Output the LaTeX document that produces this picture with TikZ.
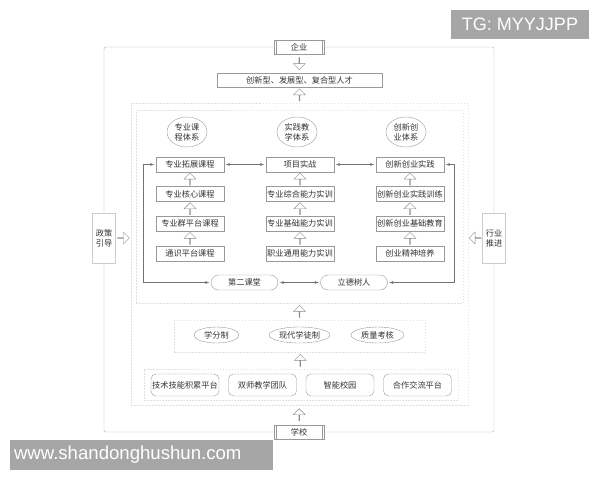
\documentclass[tikz,border=0pt]{standalone}
\usepackage{fontspec}
\usepackage{tikz}
\usetikzlibrary{arrows,shapes,calc}
\newfontfamily\cjk{Noto Sans CJK SC}
\newfontfamily\wm{Liberation Sans}

\begin{document}
\begin{tikzpicture}[x=1pt,y=1pt]
\tikzstyle{every node}=[font=\cjk\fontsize{8.2}{9.8}\selectfont, text=black!80]
\tikzstyle{box}=[rectangle, draw=black!40, fill=white, minimum width=68pt, minimum height=15pt, inner sep=1pt, node distance=29.6pt]
\tikzstyle{sys}=[ellipse, draw=black!40, minimum width=40pt, minimum height=30pt, inner sep=0pt, align=center]
\tikzstyle{oval}=[ellipse, draw=black!40, minimum height=16pt, inner sep=1pt]
\tikzstyle{pill}=[rounded rectangle, draw=black!40, minimum width=69pt, minimum height=15pt, inner sep=1pt]
\tikzstyle{plat}=[rectangle, rounded corners=5pt, draw=black!40, minimum width=68pt, minimum height=22pt, inner sep=1pt, node distance=77.5pt]
\tikzstyle{side}=[rectangle, draw=black!20, fill=white, minimum width=22pt, minimum height=50pt, align=center]
\tikzstyle{gate}=[rectangle, draw=black!40, fill=white, minimum width=50pt, minimum height=14pt]
\tikzstyle{region}=[rectangle, draw=black!12, dash pattern=on 1.5pt off 1.5pt, inner sep=0pt]
\tikzstyle{hollow}=[single arrow, draw=black!45, fill=white, minimum height=12pt, minimum width=12pt, inner sep=0pt, single arrow head extend=3pt]
\tikzstyle{connect}=[latex-latex, draw=black!55, shorten <=1.5pt, shorten >=1.5pt]
\tikzstyle{outerline}=[draw=black!30, rounded corners=2pt]
\tikzstyle{wmark}=[fill=black!35, text=white, inner sep=0pt]

  \useasboundingbox (0,0) rectangle (600,-480);

  % dashed regions
  \node[region, minimum width=337pt, minimum height=302pt] (wk) at (299.5,-254) {};
  \node[region, minimum width=327pt, minimum height=193pt] (nk) at (299.5,-206.5) {};
  \node[region, minimum width=251pt, minimum height=32pt] (zj) at (299.5,-336) {};
  \node[region, minimum width=314pt, minimum height=31pt] (dj) at (301,-384.5) {};

  % frame
  \node[gate] (qy) at (299,-47) {企业};
  \node[gate] (xx) at (299,-432) {学校};
  \node[side] (zc) at (104,-238) {政策\\引导};
  \node[side] (hy) at (494,-238) {行业\\推进};
  \foreach \g in {qy,xx} {
    \draw[black!40] ([xshift=2pt]\g.north west) -- ([xshift=2pt]\g.south west);
    \draw[black!40] ([xshift=-2pt]\g.north east) -- ([xshift=-2pt]\g.south east);
  }
  \path[outerline] (qy.west) -| (zc.north)
                   (zc.south) |- (xx.west)
                   (xx.east) -| (hy.south)
                   (hy.north) |- (qy.east);

  \node[gate, minimum width=165pt] (rc) at (299.5,-80) {创新型、发展型、复合型人才};

  % three systems
  \node[sys] (t1) at (187,-132) {专业课\\程体系};
  \node[sys] (t2) at (297,-132) {实践教\\学体系};
  \node[sys] (t3) at (406,-132) {创新创\\业体系};

  \node[box] (k1) at (190,-164.5) {专业拓展课程};
  \node[box] (k2) [below of=k1] {专业核心课程};
  \node[box] (k3) [below of=k2] {专业群平台课程};
  \node[box] (k4) [below of=k3] {通识平台课程};
  \node[box, node distance=110pt] (s1) [right of=k1] {项目实战};
  \node[box] (s2) [below of=s1] {专业综合能力实训};
  \node[box] (s3) [below of=s2] {专业基础能力实训};
  \node[box] (s4) [below of=s3] {职业通用能力实训};
  \node[box, node distance=110pt] (c1) [right of=s1] {创新创业实践};
  \node[box] (c2) [below of=c1] {创新创业实践训练};
  \node[box] (c3) [below of=c2] {创新创业基础教育};
  \node[box] (c4) [below of=c3] {创业精神培养};

  \node[pill] (ek) at (244.5,-282.5) {第二课堂};
  \node[pill] (ld) at (354,-282.5) {立德树人};

  % mechanisms
  \node[oval, minimum width=45pt] (xf) at (216.5,-335) {学分制};
  \node[oval, minimum width=55pt] (xd) at (299.5,-335) {现代学徒制};
  \node[oval, minimum width=53pt] (zl) at (377.5,-335) {质量考核};

  % platforms
  \node[plat] (p1) at (185,-385) {技术技能积累平台};
  \node[plat] (p2) [right of=p1] {双师教学团队};
  \node[plat] (p3) [right of=p2] {智能校园};
  \node[plat] (p4) [right of=p3] {合作交流平台};

  % hollow arrows
  \node[hollow, shape border rotate=270] at ($(qy.south)!.5!(rc.north)$) {};
  \node[hollow, shape border rotate=90] at ($(rc.south)!.5!(wk.north)$) {};
  \node[hollow, shape border rotate=90] at ($(nk.south)!.5!(zj.north)$) {};
  \node[hollow, shape border rotate=90] at ($(zj.south)!.5!(dj.north)$) {};
  \node[hollow, shape border rotate=90] at ($(wk.south)!.5!(xx.north)$) {};
  \node[hollow, shape border rotate=0] at ($(zc.east)!.5!(zc.east -| wk.west)$) {};
  \node[hollow, shape border rotate=180] at ($(hy.west)!.5!(hy.west -| wk.east)$) {};
  \foreach \c in {k,s,c} {
    \node[hollow, shape border rotate=90] at ($(\c2.north)!.5!(\c1.south)$) {};
    \node[hollow, shape border rotate=90] at ($(\c3.north)!.5!(\c2.south)$) {};
    \node[hollow, shape border rotate=90] at ($(\c4.north)!.5!(\c3.south)$) {};
  }

  % loop
  \path (k1.east) edge [connect] (s1.west)
        (s1.east) edge [connect] (c1.west)
        (ld.west) edge [connect] (ek.east);
  \draw[connect] (c1.east) -- ++(10,0) |- (ld.east);
  \draw[connect] (k1.west) -- ++(-13,0) |- (ek.west);

  % marks
  \node[wmark, minimum width=138pt, minimum height=29pt] (tg) at (520,-24.5) {\wm\fontsize{18}{18}\selectfont TG: MYYJJPP};
  \node[wmark, minimum width=263pt, minimum height=30pt, text width=255pt, align=left] (ws) at (141.5,-455) {\wm\fontsize{18.6}{18.6}\selectfont www.shandonghushun.com};

\end{tikzpicture}
\end{document}
